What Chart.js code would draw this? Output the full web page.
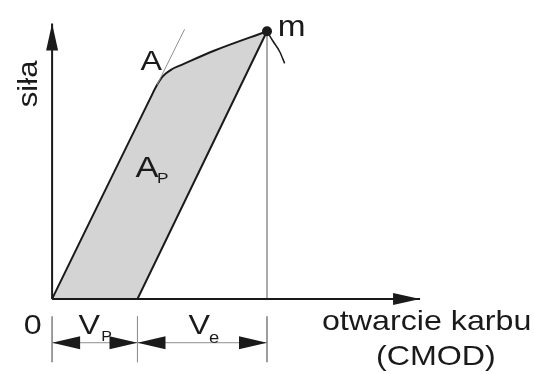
<!DOCTYPE html>
<html>
<head>
<meta charset="utf-8">
<script src="https://cdn.jsdelivr.net/npm/chart.js@4.4.1/dist/chart.umd.min.js"></script>
<style>
  html, body { margin: 0; padding: 0; background: #fff; }
</style>
</head>
<body>
<canvas id="cmodChart" width="534" height="374"></canvas>
<script>
// values (x = CMOD, y = siła, arbitrary units)
const loadCurve = [[0, 0], [10.0, 20.6], [10.7, 22.0], [11.3, 22.9], [12.2, 23.6], [13.2, 24.05], [16.5, 25.5], [21.9, 27.5]];
const unloadPath = [[0, 0], [8.7, 0], [21.9, 27.5]];
const peak = [21.9, 27.5];
const tangentLine = [[10.7, 22.0], [13.5, 27.7]];
const crackCurve = [[21.9, 27.5], [22.5, 26.5], [23.2, 25.4], [23.7, 24.2]];
const axisX = [[0, 0], [37.5, 0]];
const axisY = [[0, 0], [0, 28.3]];
const dimMarks = [0, 8.7, 21.9];
const dimY = -4.5;
const extTop = -1.8;
const extBottom = -6.5;

const pts = arr => arr.map(p => ({ x: p[0], y: p[1] }));

const extLines = [];
dimMarks.forEach((m) => {
  extLines.push({ x: m, y: extTop }, { x: m, y: extBottom }, { x: m, y: null });
});

const labels = [
  { text: 'A', x: 9.0, y: 23.5, size: 28 },
  { text: 'm', x: 23.0, y: 27.0, size: 29 },
  { text: 'A', x: 8.5, y: 12.5, size: 30 },
  { text: 'P', x: 10.7, y: 11.9, size: 15 },
  { text: '0', x: -2.9, y: -3.6, size: 28 },
  { text: 'V', x: 2.7, y: -3.6, size: 28 },
  { text: 'P', x: 5.0, y: -4.3, size: 14 },
  { text: 'V', x: 13.9, y: -3.6, size: 28 },
  { text: 'e', x: 16.0, y: -4.5, size: 16 },
  { text: 'otwarcie karbu', x: 27.5, y: -3.2, size: 28 },
  { text: '(CMOD)', x: 33.0, y: -6.8, size: 28 },
  { text: 'siła', x: -1.5, y: 19.7, size: 27, rotate: -Math.PI / 2 }
];

const ink = '#1a1a1a';
const thinGray = '#8f8f8f';

function drawArrowHead(ctx, x0, y0, x1, y1, len, half) {
  const d = Math.hypot(x1 - x0, y1 - y0);
  const ux = (x1 - x0) / d, uy = (y1 - y0) / d;
  const bx = x1 - ux * len, by = y1 - uy * len;
  ctx.beginPath();
  ctx.moveTo(x1, y1);
  ctx.lineTo(bx - uy * half, by + ux * half);
  ctx.lineTo(bx + uy * half, by - ux * half);
  ctx.closePath();
  ctx.fill();
}

const sketchPlugin = {
  id: 'sketch',
  afterDatasetsDraw(chart) {
    const ctx = chart.ctx;
    const xs = chart.scales.x, ys = chart.scales.y;
    const px = v => xs.getPixelForValue(v);
    const py = v => ys.getPixelForValue(v);

    ctx.save();
    ctx.fillStyle = ink;
    labels.forEach((l) => {
      ctx.save();
      ctx.translate(px(l.x), py(l.y));
      if (l.rotate) ctx.rotate(l.rotate);
      ctx.scale(1.15, 1);
      ctx.font = l.size + 'px "Liberation Sans", Arial, sans-serif';
      ctx.textBaseline = 'alphabetic';
      ctx.fillText(l.text, 0, 0);
      ctx.restore();
    });

    // axis arrows
    [axisX, axisY].forEach((a) => {
      drawArrowHead(ctx, px(a[0][0]), py(a[0][1]), px(a[1][0]), py(a[1][1]), 27, 6);
    });

    // dimension arrows, pointing outward to the extension lines
    for (let i = 0; i < dimMarks.length - 1; i++) {
      const a = px(dimMarks[i]), b = px(dimMarks[i + 1]), y = py(dimY);
      drawArrowHead(ctx, b, y, a, y, 28, 6.5);
      drawArrowHead(ctx, a, y, b, y, 28, 6.5);
    }
    ctx.restore();
  }
};

new Chart(document.getElementById('cmodChart'), {
  type: 'scatter',
  data: {
    datasets: [
      {
        data: pts(loadCurve),
        showLine: true,
        borderColor: ink,
        borderWidth: 2,
        backgroundColor: '#d4d4d4',
        fill: '+1',
        cubicInterpolationMode: 'monotone',
        pointRadius: 0,
        order: 1
      },
      {
        data: pts(unloadPath),
        showLine: true,
        borderColor: ink,
        borderWidth: 2,
        pointRadius: 0,
        order: -1
      },
      {
        data: pts(axisX),
        showLine: true,
        borderColor: ink,
        borderWidth: 2,
        pointRadius: 0,
        order: -1
      },
      {
        data: pts(axisY),
        showLine: true,
        borderColor: ink,
        borderWidth: 2,
        pointRadius: 0,
        order: -1
      },
      {
        data: pts(tangentLine),
        showLine: true,
        borderColor: thinGray,
        borderWidth: 1,
        pointRadius: 0
      },
      {
        data: [{ x: peak[0], y: peak[1] }, { x: peak[0], y: 0 }],
        showLine: true,
        borderColor: thinGray,
        borderWidth: 1.5,
        pointRadius: 0
      },
      {
        data: pts(crackCurve),
        showLine: true,
        borderColor: ink,
        borderWidth: 1.5,
        cubicInterpolationMode: 'monotone',
        pointRadius: 0
      },
      {
        data: extLines,
        showLine: true,
        spanGaps: false,
        borderColor: thinGray,
        borderWidth: 1,
        pointRadius: 0
      },
      {
        data: [{ x: dimMarks[0], y: dimY }, { x: dimMarks[dimMarks.length - 1], y: dimY }],
        showLine: true,
        borderColor: thinGray,
        borderWidth: 1,
        pointRadius: 0
      },
      {
        data: [{ x: peak[0], y: peak[1] }],
        pointRadius: 5,
        pointBackgroundColor: ink,
        pointBorderWidth: 0,
        order: -2
      }
    ]
  },
  options: {
    responsive: false,
    animation: false,
    events: [],
    layout: { padding: 0 },
    plugins: {
      legend: { display: false },
      tooltip: { enabled: false }
    },
    scales: {
      x: { type: 'linear', min: -4.8, max: 48.6, display: false },
      y: { type: 'linear', min: -7.2, max: 30.2, display: false }
    }
  },
  plugins: [sketchPlugin]
});
</script>
</body>
</html>
